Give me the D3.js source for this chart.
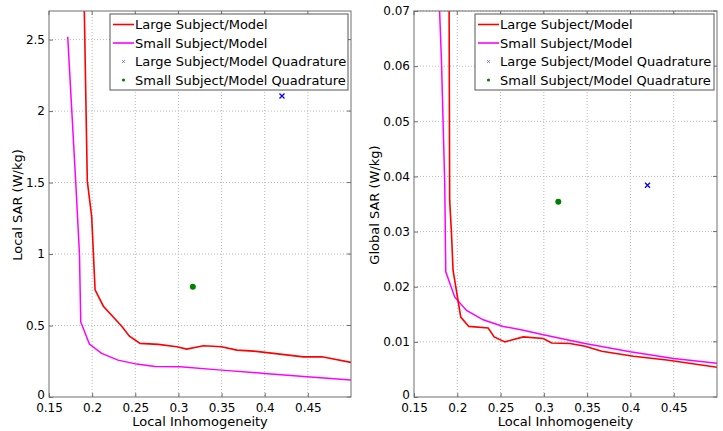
<!DOCTYPE html>
<html>
<head>
<meta charset="utf-8">
<script src="https://cdn.jsdelivr.net/npm/d3@7"></script>
<style>
  body { margin: 0; background: #fff; }
  svg { font-family: "DejaVu Sans", sans-serif; }
</style>
</head>
<body>
<div id="chart"></div>
<script>
// tick values
var xTicks = [0.15, 0.2, 0.25, 0.3, 0.35, 0.4, 0.45];
var localTicks = [0, 0.5, 1, 1.5, 2, 2.5];
var globalTicks = [0, 0.01, 0.02, 0.03, 0.04, 0.05, 0.06, 0.07];

var legendNames = ["Large Subject/Model", "Small Subject/Model",
  "Large Subject/Model Quadrature", "Small Subject/Model Quadrature"];

// local SAR curves [inhomogeneity, SAR]
var localLarge = [[0.1902, 2.95], [0.1944, 1.51], [0.1995, 1.26], [0.2034, 0.75], [0.213, 0.635],
  [0.2343, 0.495], [0.2432, 0.425], [0.2556, 0.375], [0.2768, 0.368], [0.298, 0.351],
  [0.3097, 0.335], [0.329, 0.358], [0.35, 0.351], [0.3677, 0.328], [0.387, 0.321],
  [0.41, 0.305], [0.445, 0.281], [0.4664, 0.281], [0.5, 0.242]];
var localSmall = [[0.1717, 2.52], [0.181, 1.5], [0.1853, 1.0], [0.1868, 0.525], [0.1968, 0.37],
  [0.211, 0.305], [0.23, 0.258], [0.2517, 0.23], [0.273, 0.214], [0.302, 0.211],
  [0.35, 0.188], [0.4, 0.165], [0.449, 0.142], [0.5, 0.119]];
var localLargeQuad = [0.42, 2.105];
var localSmallQuad = [0.3167, 0.772];

// global SAR curves
var globalLarge = [[0.1903, 0.085], [0.1912, 0.0357], [0.1933, 0.0297], [0.1951, 0.023],
  [0.204, 0.0145], [0.2133, 0.0128], [0.2357, 0.0125], [0.2426, 0.0109], [0.255, 0.0100],
  [0.2762, 0.0109], [0.2993, 0.0106], [0.309, 0.0098], [0.3302, 0.0097], [0.3476, 0.0092],
  [0.3669, 0.0083], [0.4035, 0.0074], [0.442, 0.0067], [0.5, 0.0054]];
var globalSmall = [[0.1786, 0.074], [0.1817, 0.0611], [0.1855, 0.0387], [0.1867, 0.0227],
  [0.1971, 0.0181], [0.2107, 0.0157], [0.2299, 0.014], [0.253, 0.0128], [0.2762, 0.0121],
  [0.2993, 0.0113], [0.3476, 0.0097], [0.3997, 0.0082], [0.4498, 0.007], [0.5, 0.0061]];
var globalLargeQuad = [0.4197, 0.0384];
var globalSmallQuad = [0.3167, 0.0354];

var W = 723, H = 431;
var svg = d3.select("#chart").append("svg")
  .attr("width", W)
  .attr("height", H);

function panel(opt) {
  var left = opt.left, right = opt.right, top = 11, bottom = 397;
  var x = d3.scaleLinear().domain([0.15, 0.5]).range([left, right]);
  var y = d3.scaleLinear().domain([0, opt.ymax]).range([bottom, top]);
  var g = svg.append("g");

  // grid
  g.selectAll(".gx").data(xTicks.slice(1)).enter().append("line")
    .attr("x1", function (d) { return x(d); }).attr("x2", function (d) { return x(d); })
    .attr("y1", top).attr("y2", bottom)
    .style("stroke", "#b8b8b8").style("stroke-dasharray", "1,2");
  g.selectAll(".gy").data(opt.yTicks.slice(1)).enter().append("line")
    .attr("x1", left).attr("x2", right)
    .attr("y1", function (d) { return y(d); }).attr("y2", function (d) { return y(d); })
    .style("stroke", "#b8b8b8").style("stroke-dasharray", "1,2");

  var clipId = "clip" + opt.id;
  svg.append("clipPath").attr("id", clipId).append("rect")
    .attr("x", left).attr("y", top).attr("width", right - left).attr("height", bottom - top);

  var line = d3.line().x(function (d) { return x(d[0]); }).y(function (d) { return y(d[1]); });
  var curves = g.append("g").attr("clip-path", "url(#" + clipId + ")");
  curves.append("path").datum(opt.small).attr("d", line)
    .style("fill", "none").style("stroke", "#ff00ff").style("stroke-width", 1.5);
  curves.append("path").datum(opt.large).attr("d", line)
    .style("fill", "none").style("stroke", "#ff0000").style("stroke-width", 1.6);

  // quadrature points
  var qx = x(opt.largeQuad[0]), qy = y(opt.largeQuad[1]);
  g.append("path").attr("d", "M" + (qx - 2.5) + "," + (qy - 2.5) + "L" + (qx + 2.5) + "," + (qy + 2.5) +
      "M" + (qx - 2.5) + "," + (qy + 2.5) + "L" + (qx + 2.5) + "," + (qy - 2.5))
    .style("stroke", "#0000ff").style("stroke-width", 1.3);
  g.append("circle").attr("cx", x(opt.smallQuad[0])).attr("cy", y(opt.smallQuad[1]))
    .attr("r", 3).style("fill", "#008000");

  // axes box
  g.append("rect").attr("x", left).attr("y", top).attr("width", right - left).attr("height", bottom - top)
    .style("fill", "none").style("stroke", "#6e6e6e").style("stroke-width", 1);

  var xa = g.append("g").attr("transform", "translate(0," + bottom + ")")
    .call(d3.axisBottom(x).tickValues(xTicks).tickSize(-4).tickPadding(6).tickFormat(d3.format("")));
  var ya = g.append("g").attr("transform", "translate(" + left + ",0)")
    .call(d3.axisLeft(y).tickValues(opt.yTicks).tickSize(-4).tickPadding(4).tickFormat(d3.format("")));
  [xa, ya].forEach(function (a) {
    a.select(".domain").remove();
    a.selectAll(".tick line").style("stroke", "#6e6e6e");
    a.selectAll("text").style("font-size", "12px").style("fill", "#000")
      .style("font-family", "'DejaVu Sans', sans-serif");
  });
  // the zero label sits just above the x tick labels, as in matlab
  ya.selectAll(".tick text").filter(function (d) { return d === 0; }).attr("dy", "0.1em");

  // inner ticks at top and right
  g.selectAll(".tt").data(xTicks).enter().append("line")
    .attr("x1", function (d) { return x(d); }).attr("x2", function (d) { return x(d); })
    .attr("y1", top).attr("y2", top + 4).style("stroke", "#6e6e6e");
  g.selectAll(".tr").data(opt.yTicks).enter().append("line")
    .attr("x1", right - 4).attr("x2", right)
    .attr("y1", function (d) { return y(d); }).attr("y2", function (d) { return y(d); })
    .style("stroke", "#6e6e6e");

  // axis titles
  g.append("text")
    .attr("x", (left + right) / 2).attr("y", 426)
    .attr("text-anchor", "middle").style("font-size", "13px")
    .text("Local Inhomogeneity");
  g.append("text")
    .attr("transform", "translate(" + opt.ylabelX + ",205) rotate(-90)")
    .attr("text-anchor", "middle").style("font-size", "13px")
    .text(opt.ylabel);

  // legend
  var lx = opt.legendLeft, ly = 14, lw = right - 3 - lx, lh = 76;
  var lg = g.append("g");
  lg.append("rect").attr("x", lx).attr("y", ly).attr("width", lw).attr("height", lh)
    .style("fill", "#fff").style("stroke", "#555").style("stroke-width", 1);
  var rowY = [24.5, 43, 61.5, 80];
  legendNames.forEach(function (name, i) {
    var cy = rowY[i];
    if (i === 0 || i === 1) {
      lg.append("line").attr("x1", lx + 3).attr("x2", lx + 24).attr("y1", cy).attr("y2", cy)
        .style("stroke", i === 0 ? "#ff0000" : "#ff00ff").style("stroke-width", 1.6);
    } else if (i === 2) {
      var cx = lx + 13.5;
      lg.append("path").attr("d", "M" + (cx - 1.5) + "," + (cy - 1.5) + "L" + (cx + 1.5) + "," + (cy + 1.5) +
          "M" + (cx - 1.5) + "," + (cy + 1.5) + "L" + (cx + 1.5) + "," + (cy - 1.5))
        .style("stroke", "#6060ff").style("stroke-width", 0.8);
    } else {
      lg.append("circle").attr("cx", lx + 13.5).attr("cy", cy).attr("r", 1.6).style("fill", "#008000");
    }
    lg.append("text").attr("x", lx + 25).attr("y", cy + 4.5)
      .style("font-size", "13px").text(name);
  });
}

panel({ id: 1, left: 49, right: 351, ymax: 2.7, yTicks: localTicks,
  large: localLarge, small: localSmall, largeQuad: localLargeQuad, smallQuad: localSmallQuad,
  ylabel: "Local SAR (W/kg)", ylabelX: 22, legendLeft: 110 });
panel({ id: 2, left: 414, right: 717, ymax: 0.07, yTicks: globalTicks,
  large: globalLarge, small: globalSmall, largeQuad: globalLargeQuad, smallQuad: globalSmallQuad,
  ylabel: "Global SAR (W/kg)", ylabelX: 379, legendLeft: 475 });
</script>
</body>
</html>
